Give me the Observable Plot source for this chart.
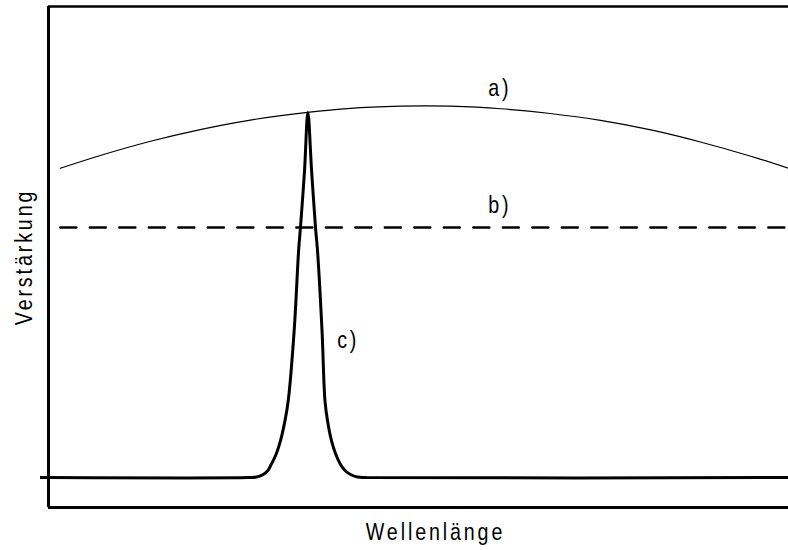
<!DOCTYPE html>
<html>
<head>
<meta charset="utf-8">
<script src="https://cdn.jsdelivr.net/npm/d3@7"></script>
<script src="https://cdn.jsdelivr.net/npm/@observablehq/plot@0.6"></script>
<style>
  html, body { margin: 0; padding: 0; background: #fff; overflow: hidden; }
  svg { display: block; }
</style>
</head>
<body>
<div id="chart"></div>
<script>
// Wavelength (arbitrary units) and gain (arbitrary units)
const xDomain = [0, 100];
const yDomain = [-8.2, 129];

// a) broad gain curve
const curveAx = [1.6, 7.0, 13.8, 20.5, 27.3, 35.0, 40.8, 47.6, 50.8, 54.3, 61.1, 67.8, 74.6, 81.4, 88.1, 94.9, 100];
const curveAy = [84.7, 88.2, 92.1, 95.3, 97.9, 100, 101.1, 101.7, 101.8, 101.7, 101.0, 99.7, 97.8, 95.2, 91.9, 88.0, 84.7];

// b) constant level (dashed)
const levelBx = [1.6, 100];
const levelBy = 68.5;

// c) narrow peak on baseline
const curveCx = [0, 27.0, 28.1, 28.9, 29.6, 30.1, 30.8, 31.35, 31.96, 32.4, 33.2, 33.8, 34.05, 34.6, 35.05,
                 35.55, 36.08, 36.35, 36.96, 37.36, 37.7, 38.24, 38.78, 39.46, 40.14, 40.95, 41.76, 42.97, 100];
const curveCy = [0, 0, 0.14, 0.7, 1.8, 3.6, 6.6, 10.1, 15.6, 21.1, 40.3, 62.2, 68.5, 84.1, 100,
                 84.1, 68.5, 62.2, 40.3, 21.1, 15.6, 10.1, 6.6, 3.6, 1.8, 0.7, 0.14, 0, 0];

// labels
const labelText = ["a)", "b)", "c)"];
const labelX = [61, 61, 40.5];
const labelY = [104.5, 72.5, 35.5];

const xTitle = "Wellenlänge";
const yTitle = "Verstärkung";

const A = curveAx.map((x, i) => ({x, y: curveAy[i]}));
const B = levelBx.map(x => ({x, y: levelBy}));
const C = curveCx.map((x, i) => ({x, y: curveCy[i]}));
const L = labelText.map((t, i) => ({t, x: labelX[i], y: labelY[i]}));

const font = "'Liberation Sans', Arial, sans-serif";

const chart = Plot.plot({
  width: 788,
  height: 550,
  marginLeft: 48,
  marginRight: 0,
  marginTop: 6,
  marginBottom: 43,
  style: {fontFamily: font, background: "#fff"},
  x: {domain: xDomain, axis: null},
  y: {domain: yDomain, axis: null},
  marks: [
    Plot.axisY({ticks: [0], tickSize: 8, tickFormat: () => "", label: null, stroke: "#000", strokeWidth: 3}),
    Plot.ruleX([xDomain[0]], {stroke: "#000", strokeWidth: 3}),
    Plot.ruleY([yDomain[0]], {stroke: "#000", strokeWidth: 3}),
    Plot.ruleY([yDomain[1]], {stroke: "#000", strokeWidth: 2.5}),
    Plot.line(A, {x: "x", y: "y", stroke: "#000", strokeWidth: 1.2, curve: "catmull-rom"}),
    Plot.line(B, {x: "x", y: "y", stroke: "#000", strokeWidth: 2.5, strokeDasharray: "16,13.5"}),
    Plot.line(C, {x: "x", y: "y", stroke: "#000", strokeWidth: 3, curve: "catmull-rom", strokeLinejoin: "round"}),
    Plot.text(L, {x: "x", y: "y", text: "t", fontSize: 24, lineAnchor: "bottom", textAnchor: "middle", fill: "#000"}),
    Plot.text([xTitle], {frameAnchor: "bottom", dy: 25, dx: 17, fontSize: 24, textAnchor: "middle", lineAnchor: "middle", fill: "#000"}),
    Plot.text([yTitle], {frameAnchor: "left", dx: -24, rotate: -90, fontSize: 24, textAnchor: "middle", lineAnchor: "middle", fill: "#000"})
  ]
});

// condense the glyphs horizontally (narrow sans look) and add tracking
d3.select(chart).selectAll("text").each(function() {
  const t = d3.select(this);
  const tr = t.attr("transform") || "";
  t.attr("transform", (tr + " scale(0.82,1)").trim());
  t.attr("letter-spacing", "3.5");
});

document.getElementById("chart").appendChild(chart);
</script>
</body>
</html>
